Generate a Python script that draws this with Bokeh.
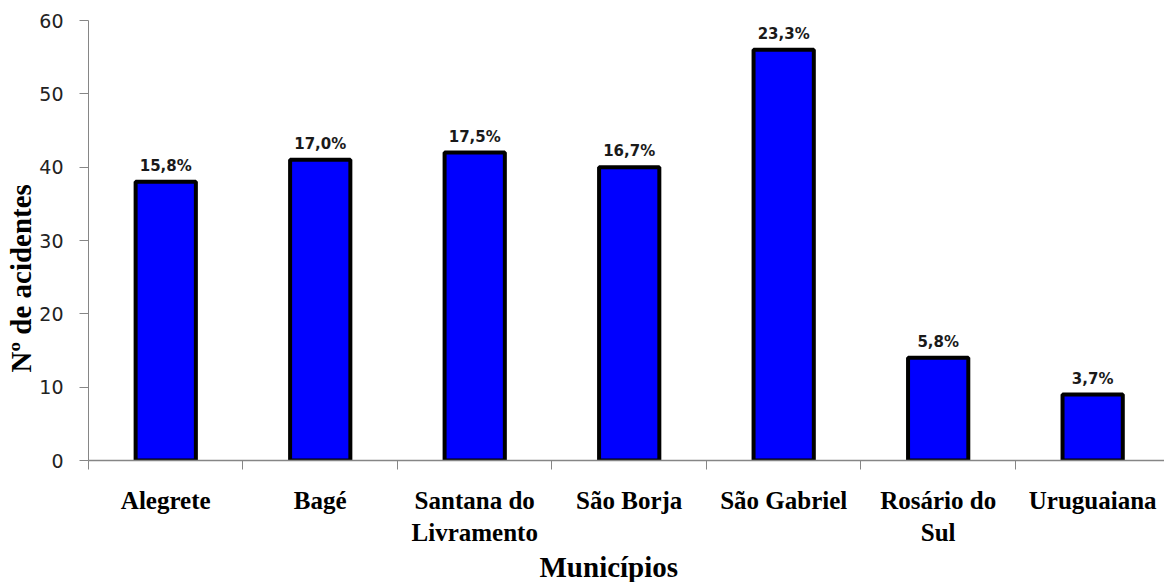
from bokeh.plotting import figure
from bokeh.models import Range1d, LinearAxis, FixedTicker, Title, ColumnDataSource
from bokeh.core.properties import value
from bokeh.embed import file_html
from bokeh.resources import INLINE

# Acidentes por município
municipios = ["Alegrete", "Bagé", "Santana do\nLivramento", "São Borja",
              "São Gabriel", "Rosário do\nSul", "Uruguaiana"]
acidentes = [38, 41, 42, 40, 56, 14, 9]
percentuais = ["15,8%", "17,0%", "17,5%", "16,7%", "23,3%", "5,8%", "3,7%"]
y_ticks = [0, 10, 20, 30, 40, 50, 60]

centros = [i + 0.5 for i in range(len(municipios))]
limites = list(range(len(municipios) + 1))

AXIS_GRAY = "#868686"

p = figure(width=1164, height=582, output_backend="svg", toolbar_location=None,
           x_range=Range1d(0, 6.965), y_range=Range1d(0, 60),
           x_axis_type=None, y_axis_type=None,
           min_border_left=88, min_border_right=0, min_border_top=20, min_border_bottom=122)
p.outline_line_color = None
p.xgrid.visible = False
p.ygrid.visible = False
p.background_fill_color = "white"
p.border_fill_color = "white"

src = ColumnDataSource(dict(x=centros, top=acidentes, pct=percentuais))

p.vbar(x="x", top="top", width=0.39, source=src,
       fill_color="#0000FF", line_color="black", line_width=4)

p.text(x="x", y="top", text="pct", source=src, y_offset=-7,
       text_align="center", text_baseline="bottom",
       text_font=value("DejaVu Sans"), text_font_style="bold",
       text_font_size="15px", text_color="#1a1a1a")

# Eixo Y
yaxis = LinearAxis(ticker=FixedTicker(ticks=y_ticks))
yaxis.axis_line_color = AXIS_GRAY
yaxis.major_tick_line_color = AXIS_GRAY
yaxis.major_tick_out = 9
yaxis.major_tick_in = 0
yaxis.minor_tick_line_color = None
yaxis.major_label_text_font = "DejaVu Sans"
yaxis.major_label_text_font_size = "19px"
yaxis.major_label_text_color = "#222222"
yaxis.major_label_standoff = 16
p.add_layout(yaxis, "left")

# Eixo X: rótulos no centro, marcas nos limites das categorias
xaxis = LinearAxis(ticker=FixedTicker(ticks=centros, minor_ticks=limites))
xaxis.axis_line_color = AXIS_GRAY
xaxis.axis_line_width = 1.5
xaxis.major_tick_line_color = None
xaxis.major_tick_out = 0
xaxis.major_tick_in = 0
xaxis.minor_tick_line_color = AXIS_GRAY
xaxis.minor_tick_out = 9
xaxis.minor_tick_in = 0
xaxis.major_label_overrides = {c: m for c, m in zip(centros, municipios)}
xaxis.major_label_text_font = "Liberation Serif"
xaxis.major_label_text_font_style = "bold"
xaxis.major_label_text_font_size = "25px"
xaxis.major_label_text_color = "black"
xaxis.major_label_standoff = 17
p.add_layout(xaxis, "below")

# Títulos dos eixos
p.add_layout(Title(text="Municípios", align="left", offset=451, standoff=0,
                   text_font="Liberation Serif", text_font_style="bold",
                   text_font_size="29px", text_color="black"), "below")
p.add_layout(Title(text="Nº de acidentes", align="left", offset=88, standoff=0,
                   text_font="Liberation Serif", text_font_style="bold",
                   text_font_size="29px", text_color="black"), "left")

open("out.html", "w").write(file_html(p, INLINE))
